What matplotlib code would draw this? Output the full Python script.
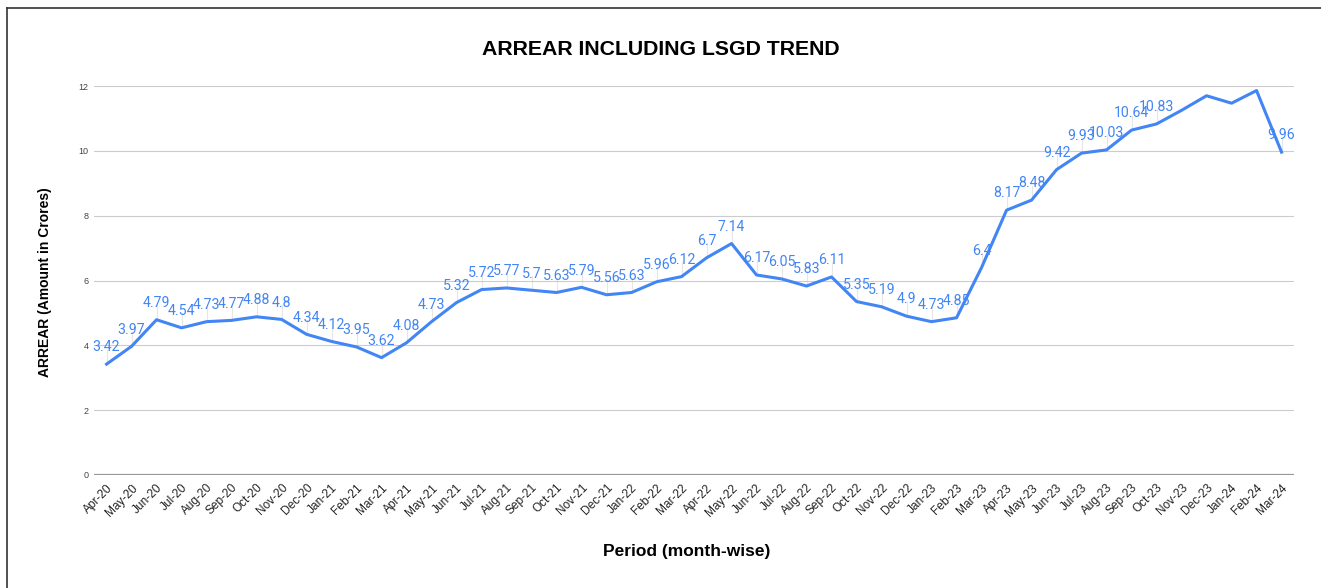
import matplotlib
matplotlib.use("Agg")
import matplotlib.pyplot as plt
from matplotlib.lines import Line2D

# Monthly arrear figures (Crores), Apr-20 .. Mar-24
months = [
    "Apr-20", "May-20", "Jun-20", "Jul-20", "Aug-20", "Sep-20", "Oct-20", "Nov-20",
    "Dec-20", "Jan-21", "Feb-21", "Mar-21", "Apr-21", "May-21", "Jun-21", "Jul-21",
    "Aug-21", "Sep-21", "Oct-21", "Nov-21", "Dec-21", "Jan-22", "Feb-22", "Mar-22",
    "Apr-22", "May-22", "Jun-22", "Jul-22", "Aug-22", "Sep-22", "Oct-22", "Nov-22",
    "Dec-22", "Jan-23", "Feb-23", "Mar-23", "Apr-23", "May-23", "Jun-23", "Jul-23",
    "Aug-23", "Sep-23", "Oct-23", "Nov-23", "Dec-23", "Jan-24", "Feb-24", "Mar-24",
]
arrear = [
    3.42, 3.97, 4.79, 4.54, 4.73, 4.77, 4.88, 4.8,
    4.34, 4.12, 3.95, 3.62, 4.08, 4.73, 5.32, 5.72,
    5.77, 5.7, 5.63, 5.79, 5.56, 5.63, 5.96, 6.12,
    6.7, 7.14, 6.17, 6.05, 5.83, 6.11, 5.35, 5.19,
    4.9, 4.73, 4.85, 6.4, 8.17, 8.48, 9.42, 9.93,
    10.03, 10.64, 10.83, 11.25, 11.7, 11.47, 11.86, 9.96,
]
# labels the original chart leaves out (overlap)
hidden = {"Nov-23", "Dec-23", "Jan-24", "Feb-24"}

blue = "#4285F4"
fig = plt.figure(figsize=(13.21, 5.88), dpi=100)
ax = fig.add_axes([0.0712, 0.1922, 0.9084, 0.6615])

x = list(range(len(months)))
ax.plot(x, arrear, color=blue, linewidth=2.2, solid_joinstyle="round", zorder=3)

for i, (m, v) in enumerate(zip(months, arrear)):
    if m in hidden:
        continue
    ax.plot([i, i], [v, v + 0.45], color="#e6e6e6", linewidth=0.8, zorder=1)
    ax.annotate(str(v), (i, v), xytext=(0, 7), textcoords="offset points",
                ha="center", va="bottom", color=blue, fontsize=10.2,
                family="Roboto", zorder=4)

ax.set_xlim(-0.5, len(months) - 0.5)
ax.set_ylim(0, 12)
ax.set_yticks([0, 2, 4, 6, 8, 10, 12])
ax.set_xticks(x)
ax.set_xticklabels(months, rotation=45, ha="right", rotation_mode="anchor",
                   fontsize=8.6, family="Liberation Sans", color="#222222")
ax.tick_params(axis="x", length=0, pad=5)
ax.tick_params(axis="y", length=0, pad=4, labelsize=6.5, labelcolor="#444444")
for lbl in ax.get_yticklabels():
    lbl.set_family("Liberation Sans")

ax.grid(axis="y", color="#cccccc", linewidth=0.8)
ax.axhline(0, color="#999999", linewidth=1.6, zorder=2)
for s in ax.spines.values():
    s.set_visible(False)

fig.text(0.5, 0.916, "ARREAR INCLUDING LSGD TREND", ha="center", va="center",
         fontsize=15.3, fontweight="bold", family="Liberation Sans")
fig.text(0.52, 0.062, "Period (month-wise)", ha="center", va="center",
         fontsize=12.5, fontweight="bold", family="Liberation Sans")
fig.text(0.034, 0.52, "ARREAR (Amount in Crores)", ha="center", va="center",
         rotation=90, fontsize=10, fontweight="bold", family="Liberation Sans")

# partial frame around the chart, as in the screenshot
fig.add_artist(Line2D([0.005, 0.005], [0.0, 0.986], transform=fig.transFigure,
                      color="#333333", linewidth=1.2))
fig.add_artist(Line2D([0.005, 1.0], [0.986, 0.986], transform=fig.transFigure,
                      color="#333333", linewidth=1.2))

fig.savefig("out.png", dpi=100, facecolor="white")
